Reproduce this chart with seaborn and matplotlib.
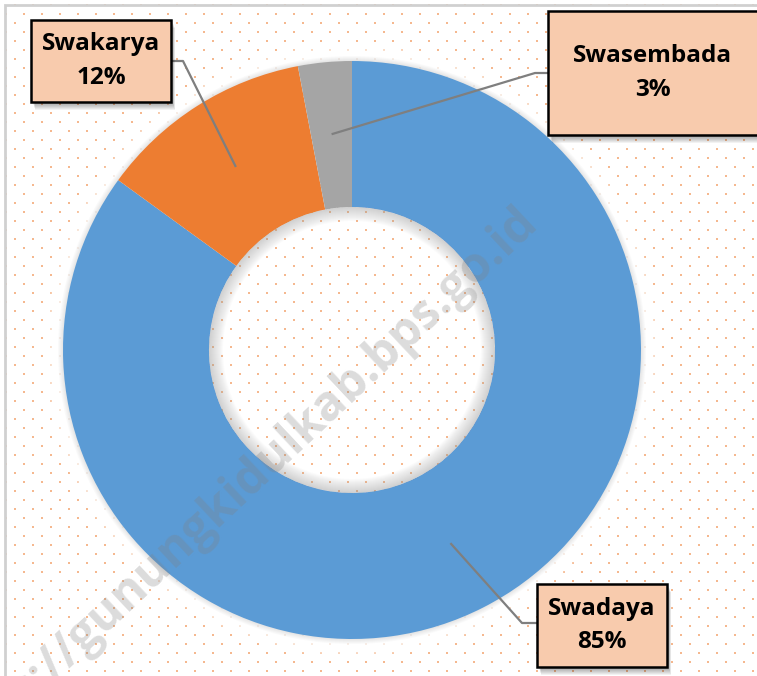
import numpy as np
import matplotlib
matplotlib.use("Agg")
import matplotlib.pyplot as plt
import seaborn as sns
from matplotlib.patches import Rectangle, Wedge as RingPatch

# ---- data ----
categories = ["Swadaya", "Swakarya", "Swasembada"]
shares = [85, 12, 3]
pct_labels = ["85%", "12%", "3%"]

sns.set_theme(style="white")
plt.rcParams['font.family'] = ['Open Sans', 'DejaVu Sans']

colors = ["#5B9BD5", "#ED7D31", "#A5A5A5"]

W, H = 757, 676
fig = plt.figure(figsize=(W / 100, H / 100), dpi=100)
ax = fig.add_axes([0, 0, 1, 1])

# background dotted pattern (decoration)
xs, ys = [], []
for r, yy in enumerate(np.arange(5, H + 9, 9)):
    off = 15 if r % 2 == 0 else 6
    for xx in np.arange(off - 18, W + 18, 18):
        xs.append(xx)
        ys.append(H - yy)
ax.scatter(xs, ys, marker='s', s=2.4, color="#F4B183", alpha=0.9,
           linewidths=0, zorder=1)

# chart frame
ax.add_patch(Rectangle((5, -10), W + 20, H - 5 + 10, fill=False,
                       edgecolor="#D0D0D0", linewidth=2, zorder=2))

cx, cy = 352, 326
R, Rin = 289, 143

# soft white halo + faint shadow around donut (rings only)
for i in range(16, 0, -1):
    ax.add_patch(RingPatch((cx, cy), R + i * 1.2, 0, 360, width=i * 1.2 + 1,
                           color="white", alpha=0.13, linewidth=0, zorder=3))
for i in range(1, 6):
    ax.add_patch(RingPatch((cx, cy), R + i, 0, 360, width=i + 1,
                           color="#808080", alpha=0.04, linewidth=0,
                           zorder=3.5))

wedges, _ = ax.pie(shares, colors=colors, startangle=90, counterclock=False,
                   radius=R, center=(cx, cy),
                   wedgeprops=dict(width=R - Rin, edgecolor='none',
                                   linewidth=0),
                   frame=False)
for w in wedges:
    w.set_zorder(4)

# inner shadow in hole (rings)
for i in range(1, 15):
    ax.add_patch(RingPatch((cx, cy), Rin, 0, 360, width=i,
                           color="#9A9A9A", alpha=0.035, linewidth=0,
                           zorder=4.5))

ax.set_xlim(0, W)
ax.set_ylim(0, H)
ax.set_aspect('equal')
ax.axis('off')

# watermark
ax.text(530, H - 215, "https://gunungkidulkab.bps.go.id", rotation=43.2,
        rotation_mode='anchor', ha='right', va='center', fontsize=35,
        fontweight='bold', color="#808080", alpha=0.28, zorder=6)

# label boxes
boxes = {
    "Swadaya": (537, 9, 130, 83, (537, 53), (522, 53)),
    "Swakarya": (31, 574, 140, 82, (171, 615), (183, 615)),
    "Swasembada": (548, 541, 210, 124, (548, 603), (535, 603)),
}
for w, cat, pct in zip(wedges, categories, pct_labels):
    bx, by, bw, bh, a1, a2 = boxes[cat]
    mid = np.deg2rad((w.theta1 + w.theta2) / 2)
    ex = cx + 0.75 * R * np.cos(mid)
    ey = cy + 0.75 * R * np.sin(mid)
    ax.plot([a1[0], a2[0], ex], [a1[1], a2[1], ey], color="#7F7F7F",
            linewidth=1.6, zorder=7, solid_capstyle='butt')
    for k in range(6, 0, -1):
        ax.add_patch(Rectangle((bx + 2 + k * 0.3, by - 2 - k), bw, bh,
                               color="black", alpha=0.05, linewidth=0,
                               zorder=7.5))
    ax.add_patch(Rectangle((bx, by), bw, bh, facecolor="#F8CBAD",
                           edgecolor="black", linewidth=1.8, zorder=8))
    ax.text(bx + bw / 2, by + bh / 2, f"{cat}\n{pct}", ha='center',
            va='center', fontsize=17.5, fontweight='bold', color="black",
            linespacing=1.5, zorder=9)

fig.savefig("out.png", dpi=100, facecolor="white")
